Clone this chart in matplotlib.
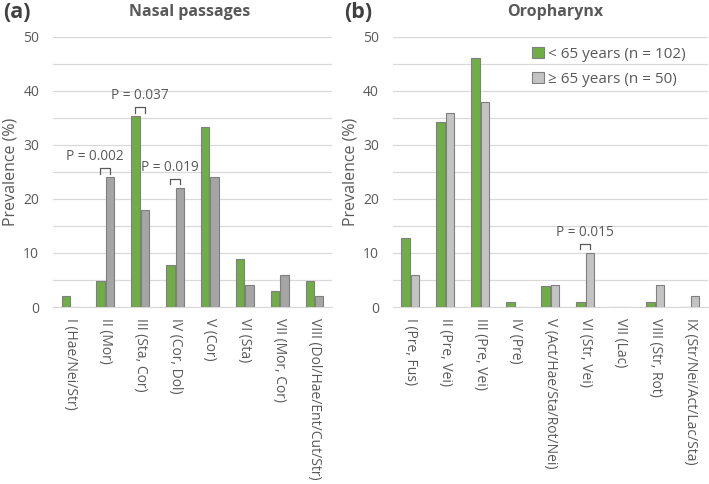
import matplotlib
matplotlib.use("Agg")
import matplotlib.pyplot as plt
import numpy as np

plt.rcParams['font.family'] = ['Open Sans', 'DejaVu Sans']

cats_a = ["I (Hae/Nei/Str)", "II (Mor)", "III (Sta, Cor)", "IV (Cor, Dol)", "V (Cor)",
          "VI (Sta)", "VII (Mor, Cor)", "VIII (Dol/Hae/Ent/Cut/Str)"]
young_a = [2.0, 4.9, 35.3, 7.8, 33.3, 8.8, 2.9, 4.9]
old_a = [0.0, 24.0, 18.0, 22.0, 24.0, 4.0, 6.0, 2.0]

cats_b = ["I (Pre, Fus)", "II (Pre, Vei)", "III (Pre, Vei)", "IV (Pre)",
          "V (Act/Hae/Sta/Rot/Nei)", "VI (Str, Vei)", "VII (Lac)", "VIII (Str, Rot)",
          "IX (Str/Nei/Act/Lac/Sta)"]
young_b = [12.7, 34.3, 46.1, 1.0, 3.9, 1.0, 0.0, 1.0, 0.0]
old_b = [6.0, 36.0, 38.0, 0.0, 4.0, 10.0, 0.0, 4.0, 2.0]

# significance annotations: (category index, label)
sig_a = [(1, "P = 0.002"), (2, "P = 0.037"), (3, "P = 0.019")]
sig_b = [(5, "P = 0.015")]

GREEN = "#70ad47"
GRAY_A = "#a5a5a5"
GRAY_B = "#c3c3c3"
EDGE = "#7f7f7f"
TXT = "#595959"

fig = plt.figure(figsize=(7.09, 4.84), dpi=100)
ax_a = fig.add_axes([0.0748, 0.3657, 0.3935, 0.558])
ax_b = fig.add_axes([0.554, 0.3657, 0.444, 0.558])

w = 0.24
off = 0.135

def draw(ax, cats, young, old, gray, sigs, text_dx):
    x = np.arange(len(cats))
    ax.bar(x - off, young, width=w, color=GREEN, edgecolor=EDGE, linewidth=0.8,
           label="< 65 years (n = 102)", zorder=3)
    ax.bar(x + off, old, width=w, color=gray, edgecolor=EDGE, linewidth=0.8,
           label="\u2265 65 years (n = 50)", zorder=3)
    ax.set_xlim(-0.5, len(cats) - 0.5)
    ax.set_ylim(0, 50)
    ax.set_yticks(np.arange(0, 51, 10))
    ax.set_yticks(np.arange(5, 50, 10), minor=True)
    ax.grid(axis='y', which='both', color='#d9d9d9', linewidth=0.9, zorder=0)
    ax.set_xticks(x)
    ax.set_xticklabels(cats, rotation=-90, fontsize=10, color=TXT, va='top', ha='center')
    ax.tick_params(axis='both', which='both', length=0)
    ax.tick_params(axis='y', labelsize=10, labelcolor=TXT, pad=10)
    ax.tick_params(axis='x', pad=8)
    for s in ['top', 'right', 'left']:
        ax.spines[s].set_visible(False)
    ax.spines['bottom'].set_color('#d9d9d9')
    ax.set_ylabel("Prevalence (%)", fontsize=11.5, color=TXT, labelpad=3)
    for (i, lab), dx in zip(sigs, text_dx):
        top = max(young[i], old[i]) + 1.7
        x0, x1 = i - 0.15, i + 0.14
        ax.plot([x0, x0, x1, x1], [top - 1.0, top, top, top - 1.0], color=TXT,
                linewidth=0.9, zorder=4, clip_on=False)
        ax.text(i + dx, top + 0.7, lab, ha='center', va='bottom', fontsize=9.8,
                color=TXT, zorder=5)

draw(ax_a, cats_a, young_a, old_a, GRAY_A, sig_a, [-0.3, 0.0, -0.15])
draw(ax_b, cats_b, young_b, old_b, GRAY_B, sig_b, [0.0])

leg = ax_b.legend(loc='upper right', bbox_to_anchor=(0.975, 1.015), frameon=False,
                  fontsize=11, handlelength=0.8, handleheight=0.8, handletextpad=0.3,
                  labelspacing=0.65, labelcolor=TXT)

fig.text(0.005, 0.975, "(a)", fontsize=15.5, fontweight='bold', color='#404040', va='center')
fig.text(0.268, 0.975, "Nasal passages", fontsize=11.5, fontweight='bold', color=TXT,
         ha='center', va='center')
fig.text(0.485, 0.975, "(b)", fontsize=15.5, fontweight='bold', color='#404040', va='center')
fig.text(0.783, 0.975, "Oropharynx", fontsize=11.5, fontweight='bold', color=TXT,
         ha='center', va='center')

fig.savefig("out.png", dpi=100)
